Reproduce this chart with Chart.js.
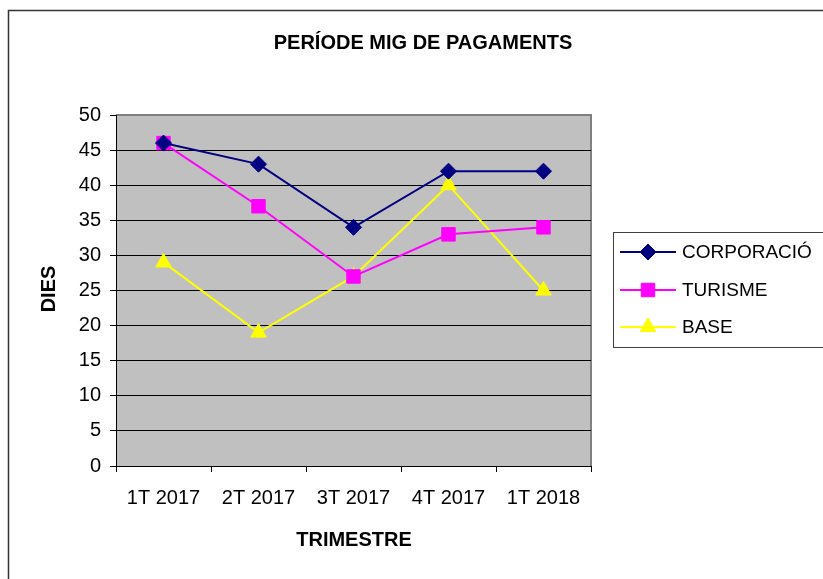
<!DOCTYPE html>
<html>
<head>
<meta charset="utf-8">
<script src="https://cdn.jsdelivr.net/npm/chart.js@4/dist/chart.umd.min.js"></script>
<style>
  html, body { margin: 0; padding: 0; background: #fff; }
  #wrap { width: 823px; height: 579px; }
</style>
</head>
<body>
<div id="wrap"><canvas id="chart" width="823" height="579"></canvas></div>
<script>
// values
const quarters = ['1T 2017', '2T 2017', '3T 2017', '4T 2017', '1T 2018'];
const corporacio = [46, 43, 34, 42, 42];
const turisme = [46, 37, 27, 33, 34];
const base = [29, 19, 27, 40, 25];
const yTicks = [0, 5, 10, 15, 20, 25, 30, 35, 40, 45, 50];

const FONT = '"Liberation Sans", Arial, sans-serif';

const series = [
  { label: 'CORPORACIÓ', data: corporacio, color: '#000080', style: 'rectRot', r: 8 },
  { label: 'TURISME', data: turisme, color: '#FF00FF', style: 'rect', r: 9.5 },
  { label: 'BASE', data: base, color: '#FFFF00', style: 'triangle', r: 9 }
];

// grey plot area + frame
const plotBg = {
  id: 'plotBg',
  beforeDraw(chart) {
    const { ctx, chartArea: a } = chart;
    ctx.save();
    ctx.fillStyle = '#fff';
    ctx.fillRect(0, 0, chart.width, chart.height);
    ctx.strokeStyle = '#333';
    ctx.lineWidth = 1.5;
    ctx.strokeRect(8.5, 10.5, 1000, 1000);
    ctx.fillStyle = '#C0C0C0';
    ctx.fillRect(a.left, a.top, a.right - a.left, a.bottom - a.top);
    ctx.strokeStyle = '#808080';
    ctx.lineWidth = 2;
    ctx.beginPath();
    ctx.moveTo(a.left, a.top);
    ctx.lineTo(a.right, a.top);
    ctx.lineTo(a.right, a.bottom);
    ctx.stroke();
    ctx.restore();
  }
};

// titles and the boxed legend
const texts = {
  id: 'texts',
  afterDraw(chart) {
    const ctx = chart.ctx;
    ctx.save();
    ctx.fillStyle = '#000';
    ctx.textAlign = 'center';
    ctx.textBaseline = 'middle';
    ctx.font = 'bold 20px ' + FONT;
    ctx.fillText('PERÍODE MIG DE PAGAMENTS', 423, 43);
    ctx.fillText('TRIMESTRE', 354, 540);
    ctx.save();
    ctx.translate(49, 289);
    ctx.rotate(-Math.PI / 2);
    ctx.fillText('DIES', 0, 0);
    ctx.restore();

    // legend
    ctx.fillStyle = '#fff';
    ctx.fillRect(613.5, 232.5, 300, 115);
    ctx.strokeStyle = '#404040';
    ctx.lineWidth = 1;
    ctx.strokeRect(613.5, 232.5, 300, 115);
    const rows = [252, 290, 327];
    series.forEach((s, i) => {
      const y = rows[i];
      ctx.strokeStyle = s.color;
      ctx.lineWidth = 2;
      ctx.beginPath();
      ctx.moveTo(620, y);
      ctx.lineTo(676, y);
      ctx.stroke();
      ctx.fillStyle = s.color;
      ctx.lineWidth = 1;
      Chart.helpers.drawPoint(ctx, { pointStyle: s.style, radius: s.r, borderWidth: 1, rotation: 0 }, 648, y);
      ctx.fillStyle = '#000';
      ctx.textAlign = 'left';
      ctx.font = '19px ' + FONT;
      ctx.fillText(s.label, 682, y + 1);
    });
    ctx.restore();
  }
};

new Chart(document.getElementById('chart'), {
  type: 'line',
  data: {
    labels: quarters,
    datasets: series.map(s => ({
      label: s.label,
      data: s.data,
      borderColor: s.color,
      backgroundColor: s.color,
      borderWidth: 2,
      pointStyle: s.style,
      pointRadius: s.r,
      pointHoverRadius: s.r,
      pointBorderWidth: 1,
      pointBackgroundColor: s.color,
      pointBorderColor: s.color,
      tension: 0,
      fill: false,
      clip: false
    }))
  },
  options: {
    responsive: false,
    devicePixelRatio: 1,
    animation: false,
    events: [],
    layout: { padding: { top: 115, right: 232, left: 0, bottom: 0 } },
    plugins: { legend: { display: false }, title: { display: false }, tooltip: { enabled: false } },
    scales: {
      x: {
        type: 'category',
        offset: true,
        afterFit(s) { s.height = 113; },
        grid: { offset: true, drawOnChartArea: false, drawTicks: true, tickLength: 6, color: '#000', lineWidth: 1 },
        border: { display: true, color: '#000', width: 1 },
        ticks: { color: '#000', font: { family: FONT, size: 20 }, padding: 14, maxRotation: 0, autoSkip: false }
      },
      y: {
        min: 0,
        max: 50,
        afterFit(s) { s.width = 116; },
        afterBuildTicks(s) { s.ticks = yTicks.map(v => ({ value: v })); },
        grid: {
          drawTicks: true,
          tickLength: 6,
          tickColor: '#000',
          lineWidth: 1,
          color: c => (c.tick && c.tick.value === 50) ? 'rgba(0,0,0,0)' : '#000'
        },
        border: { display: true, color: '#000', width: 1 },
        ticks: { color: '#000', font: { family: FONT, size: 20 }, padding: 9 }
      }
    }
  },
  plugins: [plotBg, texts]
});
</script>
</body>
</html>
